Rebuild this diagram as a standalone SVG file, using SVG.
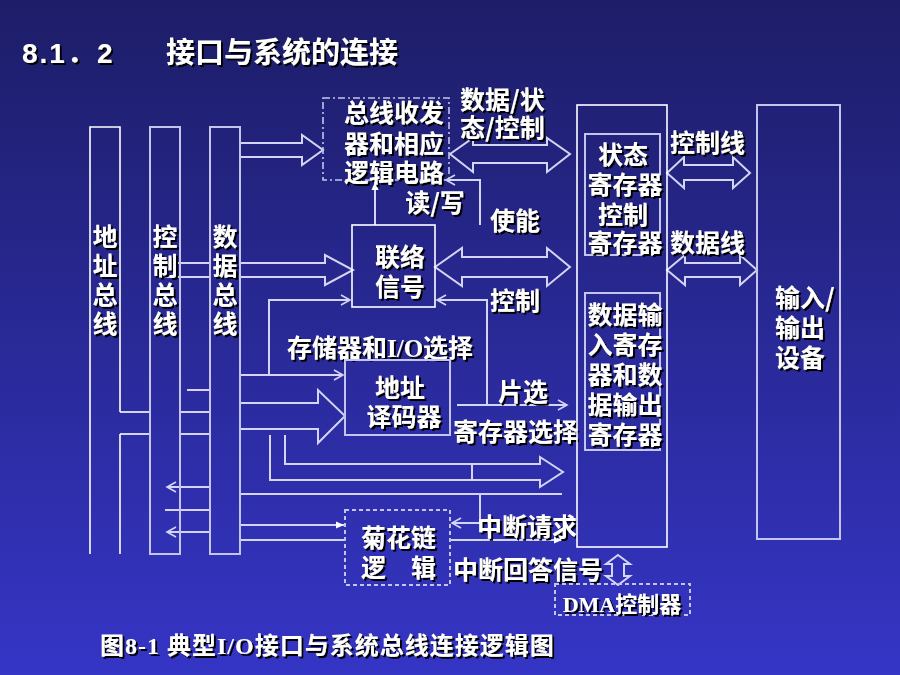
<svg xmlns="http://www.w3.org/2000/svg" width="900" height="675" viewBox="0 0 900 675">
<defs>
<linearGradient id="bg" x1="0" y1="0" x2="0" y2="1">
<stop offset="0" stop-color="#1d1d68"/>
<stop offset="1" stop-color="#3535c6"/>
</linearGradient>
<filter id="sh" x="-10%" y="-20%" width="130%" height="150%">
<feDropShadow dx="2" dy="2" stdDeviation="0.4" flood-color="#000000" flood-opacity="1"/>
</filter>
<marker id="open" viewBox="-1 -6 12 12" markerWidth="12" markerHeight="12" refX="9" refY="0" orient="auto" markerUnits="userSpaceOnUse">
<path d="M0,-5 L9,0 L0,5" fill="none" stroke="#d4d4f4" stroke-width="1.6"/>
</marker>
<marker id="fill" viewBox="0 -5 10 10" markerWidth="9" markerHeight="9" refX="9" refY="0" orient="auto" markerUnits="userSpaceOnUse">
<path d="M0,-4 L9,0 L0,4 Z" fill="#ffffff"/>
</marker>
<style>
.t{fill:#ffffff;font-family:"Noto Sans CJK SC","Liberation Sans",sans-serif;font-weight:bold;font-size:25px;filter:url(#sh)}
.ts{fill:#ffffff;font-family:"Liberation Serif","Noto Sans CJK SC",serif;font-weight:bold;font-size:25px;filter:url(#sh)}
.m{text-anchor:middle}
.ln{fill:none;stroke:#d4d4f4;stroke-width:2}
.box{fill:none;stroke:#c4c4ec;stroke-width:2}
.wbox{fill:none;stroke:#ffffff;stroke-width:1.6}
.dash{fill:none;stroke:#c4c4ec;stroke-width:2;stroke-dasharray:4 3}
.dd{fill:none;stroke:#c4c4ec;stroke-width:1.6;stroke-dasharray:7 3 2 3}
</style>
</defs>
<rect x="0" y="0" width="900" height="675" fill="url(#bg)"/>

<g id="title">
<text x="22" y="63" class="t" style="font-family:'Liberation Sans','Noto Sans CJK SC',sans-serif;font-size:28px" letter-spacing="2">8.1．2</text>
<text x="166" y="63" class="t" style="font-size:29px">接口与系统的连接</text>
<line x1="15" y1="67" x2="412" y2="67" stroke="#ff9900" stroke-width="3" filter="url(#sh)"/>
</g>

<g id="connectors">
<path class="ln" d="M120,412 L150,412 M120,434 L150,434 M180,412 L210,412 M180,434 L210,434 M187,390 L210,390"/>
<path class="ln" d="M240,143 L302,143 L302,135 L323,150 L302,165 L302,157 L240,157"/>
<path class="ln" d="M450,154 L473,138 L473,145 L547,145 L547,138 L570,154 L547,172 L547,163 L473,163 L473,172 Z"/>
<path class="ln" d="M375,225 L375,182" marker-end="url(#fill)"/>
<path class="ln" d="M480,225 L480,180 L446,180" marker-end="url(#open)"/>
<path class="ln" d="M177,263 L210,263 M165,277 L210,277 M240,263 L325,263 L325,255 L353,270 L325,285 L325,277 L240,277"/>
<path class="ln" d="M435,267 L462,248 L462,257 L547,257 L547,248 L570,267 L547,286 L547,277 L462,277 L462,286 Z"/>
<path class="ln" d="M240,375 L343,375" marker-end="url(#open)"/>
<path class="ln" d="M269,375 L269,300 L350,300" marker-end="url(#open)"/>
<path class="ln" d="M240,403 L318,403 L318,390 L345,416 L318,443 L318,429 L240,429"/>
<path class="ln" d="M457,405 L567,405" marker-end="url(#open)"/>
<path class="ln" d="M487,405 L487,300 L437,300" marker-end="url(#open)"/>
<path class="ln" d="M270,435 L270,480 L540,480 L540,487 L563,472 L540,457 L540,464 L285,464 L285,435 M472,464 L472,480"/>
<path class="ln" d="M240,494 L562,494"/>
<path class="ln" d="M480,494 L480,523 L452,523" marker-end="url(#open)"/>
<path class="ln" d="M240,525 L344,525" marker-end="url(#fill)"/>
<path class="ln" d="M240,540 L345,540"/>
<path class="ln" d="M450,540 L562,540" marker-end="url(#fill)"/>
<path class="ln" d="M165,510 L210,510"/>
<path class="ln" d="M210,487 L167,487" marker-end="url(#open)"/>
<path class="ln" d="M210,532 L167,532" marker-end="url(#open)"/>
<path class="ln" d="M667,173 L684,157 L684,165 L733,165 L733,157 L750,173 L733,188 L733,180 L684,180 L684,188 Z"/>
<path class="ln" d="M667,270 L685,255 L685,263 L740,263 L740,255 L757,270 L740,285 L740,277 L685,277 L685,285 Z"/>
<path class="ln" d="M618,555 L630,564 L624,564 L624,576 L630,576 L618,585 L606,576 L612,576 L612,564 L606,564 Z"/>
</g>

<g id="address-bus">
<path class="wbox" d="M120,412 L120,127 L90,127 L90,554 M120,434 L120,554"/>
<text class="t m" x="105" y="246">地<tspan x="105" dy="29">址</tspan><tspan x="105" dy="29">总</tspan><tspan x="105" dy="29">线</tspan></text>
</g>
<g id="control-bus">
<rect class="box" x="150" y="127" width="30" height="427"/>
<text class="t m" x="165" y="246">控<tspan x="165" dy="29">制</tspan><tspan x="165" dy="29">总</tspan><tspan x="165" dy="29">线</tspan></text>
</g>
<g id="data-bus">
<rect class="box" x="210" y="127" width="30" height="427"/>
<text class="t m" x="225" y="246">数<tspan x="225" dy="29">据</tspan><tspan x="225" dy="29">总</tspan><tspan x="225" dy="29">线</tspan></text>
</g>

<g id="transceiver">
<rect class="dd" x="323" y="98" width="126" height="82"/>
<text class="t m" x="394" y="122">总线收发</text>
<text class="t m" x="394" y="153">器和相应</text>
<text class="t m" x="394" y="182">逻辑电路</text>
</g>
<g id="label-data-status">
<text class="t" x="460" y="109">数据/状</text>
<text class="t" x="460" y="137">态/控制</text>
</g>
<g id="label-rw"><text class="t m" x="435" y="212">读/写</text></g>
<g id="label-enable"><text class="t" x="490" y="230">使能</text></g>

<g id="liaison">
<rect class="wbox" x="352" y="225" width="83" height="82"/>
<text class="t m" x="400" y="266">联络</text>
<text class="t m" x="400" y="296">信号</text>
</g>
<g id="label-control"><text class="t" x="490" y="310">控制</text></g>
<g id="label-memio"><text class="ts" x="287" y="357">存储器和I/O选择</text></g>

<g id="decoder">
<rect class="box" x="345" y="360" width="105" height="75"/>
<text class="t m" x="400" y="397">地址</text>
<text class="t m" x="404" y="426">译码器</text>
</g>
<g id="label-cs"><text class="t" x="498" y="401">片选</text></g>
<g id="label-regsel"><text class="t" x="453" y="441">寄存器选择</text></g>

<g id="daisy-chain">
<rect class="dash" x="345" y="510" width="105" height="75"/>
<text class="t" x="361" y="547">菊花链</text>
<text class="t" x="361" y="577">逻　辑</text>
</g>
<g id="label-intreq"><text class="t" x="477" y="536">中断请求</text></g>
<g id="label-intack"><text class="t" x="453" y="579">中断回答信号</text></g>

<g id="dma">
<rect class="dash" x="555" y="584" width="135" height="31"/>
<text class="ts m" x="622" y="612" style="font-size:22px">DMA控制器</text>
</g>

<g id="interface">
<rect class="wbox" x="577" y="105" width="90" height="442"/>
</g>
<g id="status-control-reg">
<rect class="box" x="585" y="134" width="75" height="121"/>
<text class="t m" x="623" y="164">状态</text>
<text class="t m" x="625" y="194">寄存器</text>
<text class="t m" x="623" y="224">控制</text>
<text class="t m" x="625" y="252">寄存器</text>
</g>
<g id="data-reg">
<rect class="box" x="585" y="293" width="75" height="157"/>
<text class="t m" x="625" y="324">数据输</text>
<text class="t m" x="625" y="354">入寄存</text>
<text class="t m" x="625" y="384">器和数</text>
<text class="t m" x="625" y="414">据输出</text>
<text class="t m" x="625" y="444">寄存器</text>
</g>
<g id="label-ctrl-line"><text class="t" x="670" y="152">控制线</text></g>
<g id="label-data-line"><text class="t" x="670" y="252">数据线</text></g>

<g id="io-device">
<rect class="box" x="757" y="105" width="83" height="434"/>
<text class="t" x="775" y="307">输入/</text>
<text class="t" x="775" y="337">输出</text>
<text class="t" x="775" y="367">设备</text>
</g>

<g id="caption">
<text class="ts" x="100" y="654" style="font-size:24px" letter-spacing="1">图8-1 典型I/O接口与系统总线连接逻辑图</text>
</g>
</svg>
